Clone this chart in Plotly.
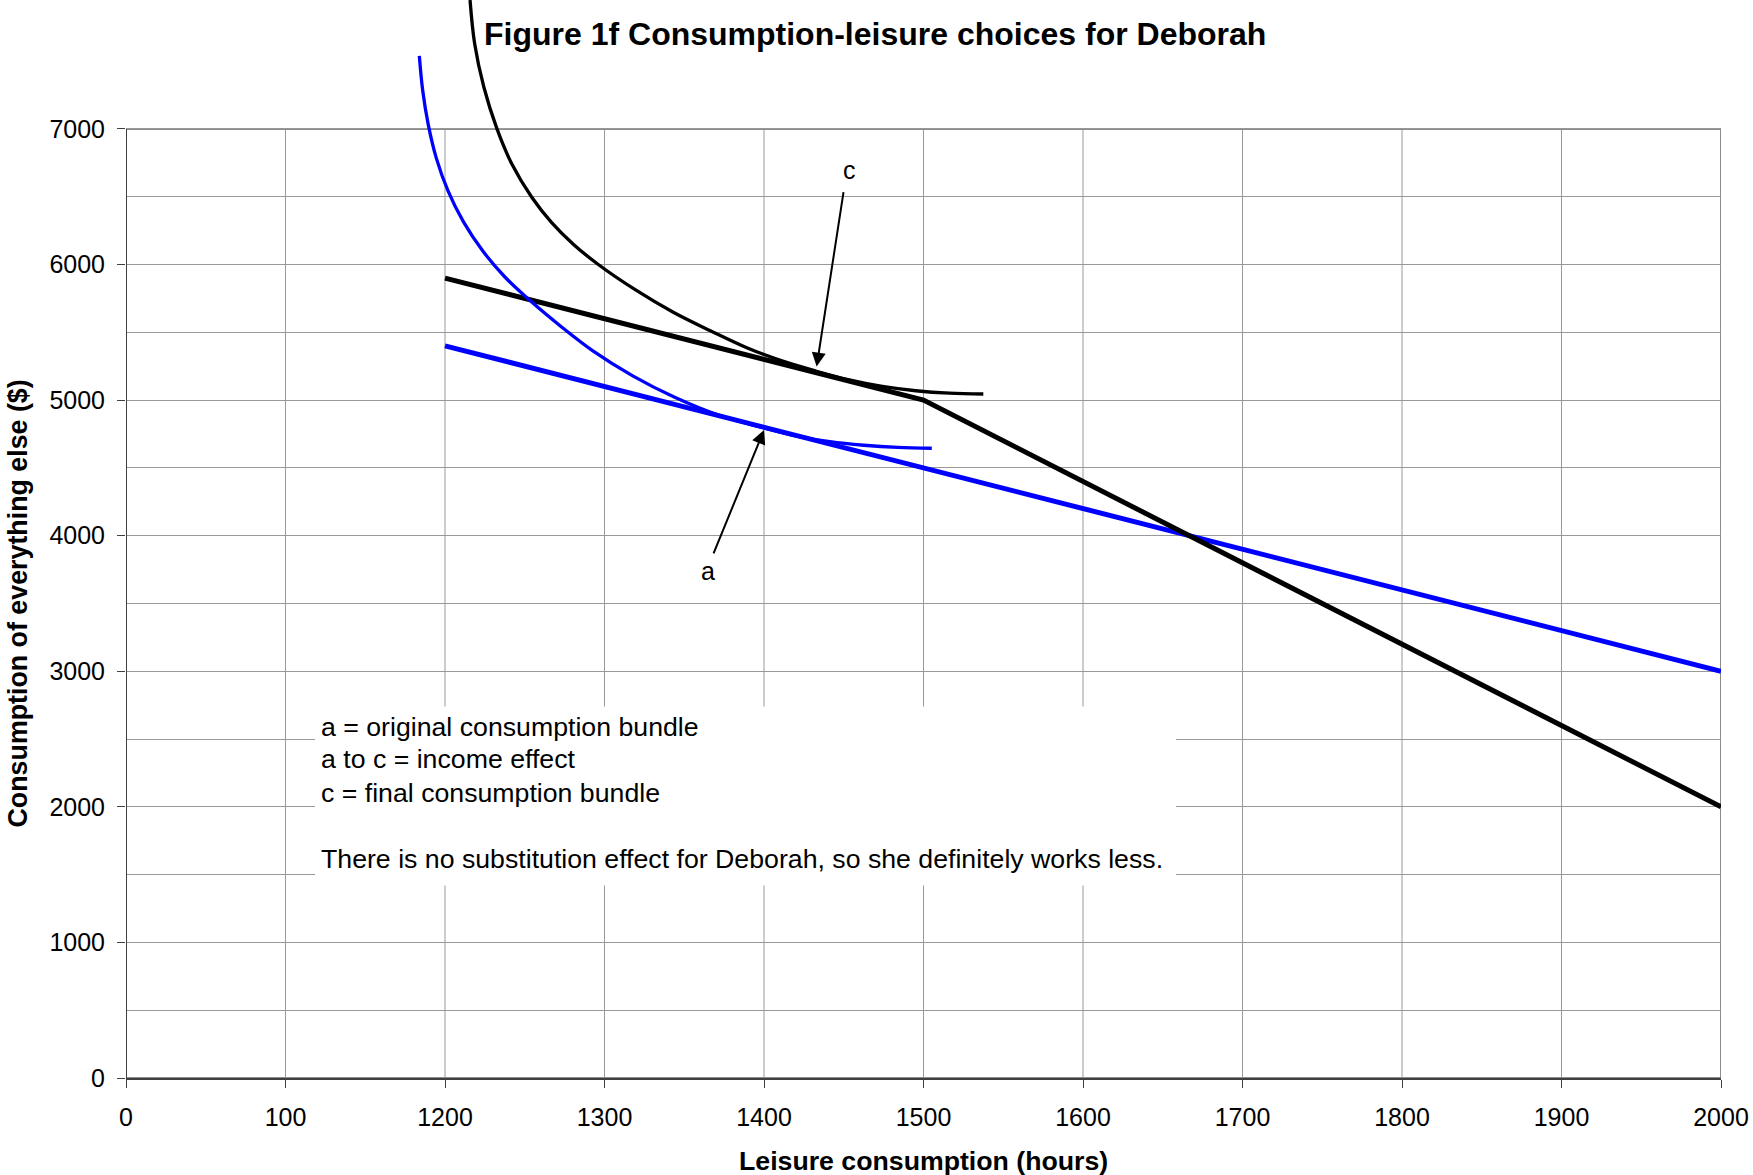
import plotly.graph_objects as go

# Leisure consumption (hours) on x, consumption of everything else ($) on y
old_budget_leisure = [1200, 2000]
old_budget_consumption = [5400, 3000]

new_budget_leisure = [1200, 1500, 2000]
new_budget_consumption = [5900, 5000, 2000]

# Indifference curve through the original bundle a
curve_a_leisure = [1183.9, 1186.0, 1189.5, 1194.6, 1201.9, 1211.6, 1223.6, 1237.7, 1253.5,
                   1272.7, 1292.7, 1317.7, 1344.0, 1371.4, 1399.6, 1420.4, 1441.4, 1462.6,
                   1483.9, 1505.2]
curve_a_consumption = [7538, 7285, 7032, 6783, 6543, 6314, 6101, 5906, 5732,
                       5543, 5363, 5179, 5021, 4890, 4796, 4735, 4693, 4667,
                       4651, 4645]

# Indifference curve through the final bundle c
curve_c_leisure = [1215.7, 1218.6, 1224.3, 1232.6, 1242.0, 1254.4, 1266.6, 1280.6, 1295.9,
                   1319.0, 1343.1, 1368.2, 1389.2, 1410.8, 1432.9, 1453.4, 1474.2, 1495.2,
                   1516.3, 1537.5]
curve_c_consumption = [7951, 7628, 7311, 7000, 6739, 6496, 6313, 6148, 6002,
                       5816, 5648, 5501, 5386, 5291, 5213, 5149, 5101, 5069,
                       5051, 5045]

x_tick_values = [1000, 1100, 1200, 1300, 1400, 1500, 1600, 1700, 1800, 1900, 2000]
x_tick_labels = ["0", "100", "1200", "1300", "1400", "1500", "1600", "1700", "1800", "1900", "2000"]
y_tick_values = [0, 1000, 2000, 3000, 4000, 5000, 6000, 7000]
y_minor_values = [500, 1500, 2500, 3500, 4500, 5500, 6500]

note_lines = [
    "a = original consumption bundle",
    "a to c = income effect",
    "c = final consumption bundle",
    "There is no substitution effect for Deborah, so she definitely works less.",
]

FONT = "Liberation Sans, Arial, sans-serif"
GRID = "#999999"
AXIS = "#404040"
BLUE = "#0000FF"

X_MIN, X_MAX = 1000, 2000
Y_TOP = 7000
Y_RANGE_MAX = 7951

fig = go.Figure()

fig.add_trace(go.Scatter(x=old_budget_leisure, y=old_budget_consumption, mode="lines",
                         line=dict(color=BLUE, width=5), showlegend=False, hoverinfo="skip"))
fig.add_trace(go.Scatter(x=new_budget_leisure, y=new_budget_consumption, mode="lines",
                         line=dict(color="black", width=5), showlegend=False, hoverinfo="skip"))
fig.add_trace(go.Scatter(x=curve_a_leisure, y=curve_a_consumption, mode="lines",
                         line=dict(color=BLUE, width=3.3, shape="spline", smoothing=1.0),
                         showlegend=False, hoverinfo="skip"))
fig.add_trace(go.Scatter(x=curve_c_leisure, y=curve_c_consumption, mode="lines",
                         line=dict(color="black", width=3.3, shape="spline", smoothing=1.0),
                         showlegend=False, hoverinfo="skip"))

# Vertical gridlines stop at the top of the frame (7000)
shapes = []
for v in x_tick_values[1:-1]:
    shapes.append(dict(type="line", xref="x", yref="y", x0=v, x1=v, y0=0, y1=Y_TOP,
                       line=dict(color=GRID, width=1), layer="below"))
# Plot frame
shapes.append(dict(type="rect", xref="x", yref="y", x0=X_MIN, x1=X_MAX, y0=0, y1=Y_TOP,
                   line=dict(color="#8c8c8c", width=2), layer="below"))
# Left axis line
shapes.append(dict(type="line", xref="x", yref="y", x0=X_MIN, x1=X_MIN, y0=0, y1=Y_TOP,
                   line=dict(color=AXIS, width=2), layer="above"))
# White panel behind the explanatory notes
shapes.append(dict(type="rect", xref="x", yref="y", x0=1118.5, x1=1658.3, y0=1420, y1=2740,
                   fillcolor="white", line=dict(width=0), layer="above"))

annotations = [
    dict(text="Figure 1f Consumption-leisure choices for Deborah", xref="paper", yref="paper",
         x=0.4696, y=0.968, xanchor="center", yanchor="middle", showarrow=False,
         font=dict(family=FONT, size=32, color="black", weight="bold")),
    dict(text="Consumption of everything else ($)", xref="paper", yref="paper",
         x=-0.0677, y=0.4402, xanchor="center", yanchor="middle", textangle=-90, showarrow=False,
         font=dict(family=FONT, size=26.8, color="black", weight="bold")),
    dict(text="Leisure consumption (hours)", xref="paper", yref="paper",
         x=0.5, y=-0.0772, xanchor="center", yanchor="middle", showarrow=False,
         font=dict(family=FONT, size=26.7, color="black", weight="bold")),
    # Arrow to bundle c
    dict(text="", x=1433, y=5247, ax=1450, ay=6545, xref="x", yref="y", axref="x", ayref="y",
         showarrow=True, arrowhead=2, arrowsize=1.4, arrowwidth=2, arrowcolor="black", standoff=0),
    dict(text="c", x=1453.5, y=6700, xref="x", yref="y", showarrow=False,
         xanchor="center", yanchor="middle", font=dict(family=FONT, size=25, color="black")),
    # Arrow to bundle a
    dict(text="", x=1400, y=4780, ax=1368, ay=3858, xref="x", yref="y", axref="x", ayref="y",
         showarrow=True, arrowhead=2, arrowsize=1.4, arrowwidth=2, arrowcolor="black", standoff=0),
    dict(text="a", x=1364.7, y=3742, xref="x", yref="y", showarrow=False,
         xanchor="center", yanchor="middle", font=dict(family=FONT, size=25, color="black")),
]

# Explanatory notes, one line each, with a blank line before the last
for line, y in zip(note_lines, [2591, 2352, 2104, 1618]):
    annotations.append(dict(text=line, x=1121.0, y=y, xref="x", yref="y",
                            xanchor="left", yanchor="middle", showarrow=False,
                            font=dict(family=FONT, size=26.7, color="black")))

fig.update_layout(
    width=1753, height=1175,
    margin=dict(l=126, r=32, t=0, b=97),
    paper_bgcolor="white", plot_bgcolor="white",
    shapes=shapes, annotations=annotations,
    xaxis=dict(range=[X_MIN, X_MAX], tickvals=x_tick_values, ticktext=x_tick_labels,
               showgrid=False, zeroline=False, showline=True, linecolor=AXIS, linewidth=2,
               ticks="outside", ticklen=8, tickwidth=1, tickcolor=AXIS,
               ticklabelstandoff=8,
               tickfont=dict(family=FONT, size=25, color="black")),
    yaxis=dict(range=[0, Y_RANGE_MAX], tickvals=y_tick_values, showgrid=True,
               gridcolor=GRID, gridwidth=1, zeroline=False, showline=False,
               ticks="outside", ticklen=8, tickwidth=1, tickcolor=AXIS,
               ticklabelstandoff=7,
               minor=dict(tickvals=y_minor_values, showgrid=True, gridcolor=GRID,
                          gridwidth=1, ticks=""),
               tickfont=dict(family=FONT, size=25, color="black")),
)

fig.write_html("out.html")
